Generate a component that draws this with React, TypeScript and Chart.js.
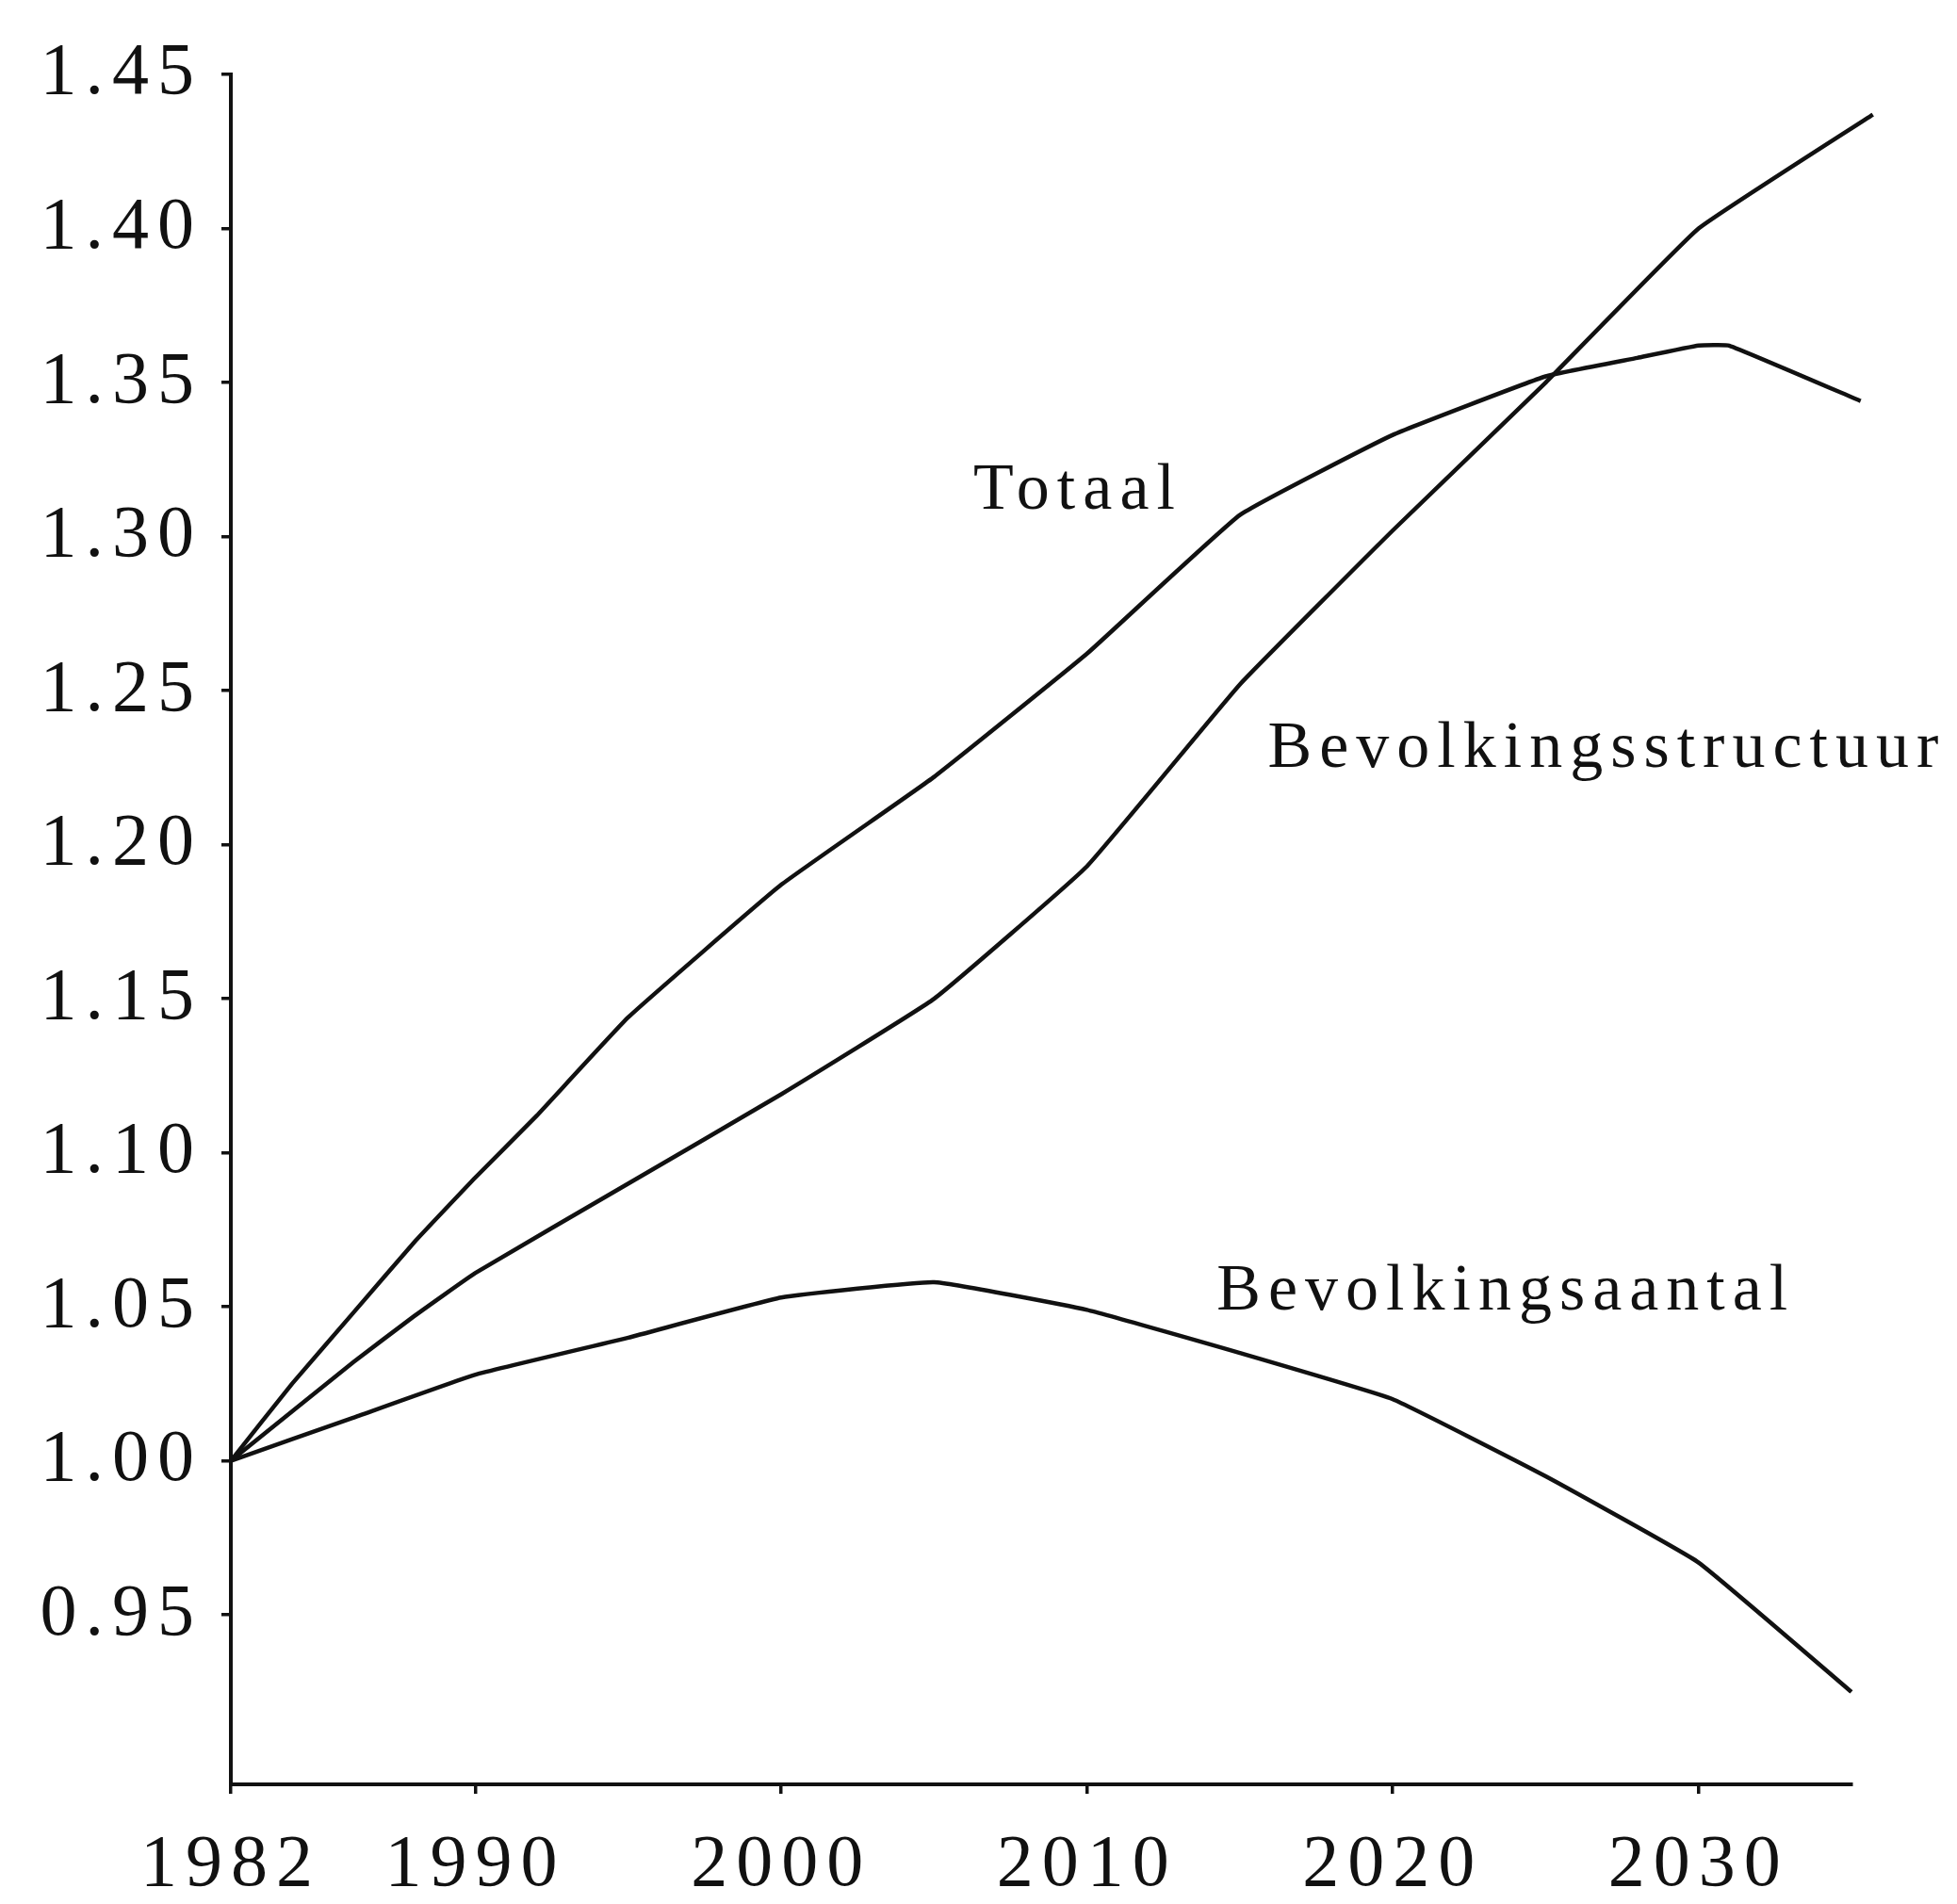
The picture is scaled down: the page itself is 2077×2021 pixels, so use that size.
import React, { useEffect, useRef } from "react";
import { Chart, registerables } from "chart.js";

Chart.register(...registerables);

// ---- data ----
const totaalYears = [1982, 1984, 1986, 1988, 1990, 1992, 1995, 2000, 2005, 2010, 2015, 2020, 2025, 2028, 2030, 2031, 2035.3];
const totaalValues = [1.0, 1.025, 1.048, 1.071, 1.092, 1.112, 1.144, 1.187, 1.222, 1.262, 1.307, 1.333, 1.352, 1.358, 1.362, 1.362, 1.344];

const structuurYears = [1982, 1986, 1988, 1990, 1995, 2000, 2005, 2010, 2015, 2020, 2025, 2030, 2035.7];
const structuurValues = [1.0, 1.032, 1.047, 1.061, 1.09, 1.119, 1.15, 1.193, 1.252, 1.302, 1.35, 1.4, 1.437];

const aantalYears = [1982, 1986, 1990, 1995, 2000, 2005, 2010, 2015, 2020, 2025, 2030, 2035];
const aantalValues = [1.0, 1.014, 1.028, 1.04, 1.053, 1.058, 1.049, 1.035, 1.02, 0.995, 0.967, 0.925];

const xTickValues = [1982, 1990, 2000, 2010, 2020, 2030];
const yTickValues = [0.95, 1.0, 1.05, 1.1, 1.15, 1.2, 1.25, 1.3, 1.35, 1.4, 1.45];

const seriesLabels = ["Totaal", "Bevolkingsstructuur", "Bevolkingsaantal"];
const labelYears = [2009.7, 2027.0, 2023.7];
const labelValues = [1.3146, 1.2308, 1.0547];

const INK = "#111111";
const FONT = '"Liberation Serif", "Times New Roman", serif';

const toPoints = (xs: number[], ys: number[]) => xs.map((x, i) => ({ x, y: ys[i] }));

const letterSpacingPlugin = {
  id: "letterSpacing",
  beforeDraw(chart: any) {
    try {
      chart.ctx.letterSpacing = "9px";
    } catch (e) {}
  },
};

const annotationPlugin = {
  id: "annotations",
  afterDatasetsDraw(chart: any) {
    const { ctx, scales } = chart;
    const xs = scales.x;
    const ys = scales.y;
    ctx.save();
    try {
      ctx.letterSpacing = "8px";
    } catch (e) {}
    ctx.font = `70px ${FONT}`;
    ctx.fillStyle = INK;
    ctx.textAlign = "center";
    ctx.textBaseline = "middle";
    seriesLabels.forEach((t, i) => {
      ctx.fillText(t, xs.getPixelForValue(labelYears[i]), ys.getPixelForValue(labelValues[i]));
    });
    ctx.restore();
  },
};

export default function App() {
  const ref = useRef<HTMLCanvasElement | null>(null);

  useEffect(() => {
    if (!ref.current) return;
    const mk = (label: string, xs: number[], ys: number[]) => ({
      label,
      data: toPoints(xs, ys),
      borderColor: INK,
      backgroundColor: INK,
      borderWidth: 4.5,
      pointRadius: 0,
      tension: 0.1,
      fill: false,
      clip: false as any,
    });
    const chart = new Chart(ref.current, {
      type: "line",
      data: {
        datasets: [
          mk(seriesLabels[0], totaalYears, totaalValues),
          mk(seriesLabels[1], structuurYears, structuurValues),
          mk(seriesLabels[2], aantalYears, aantalValues),
        ],
      },
      options: {
        responsive: false,
        animation: false,
        events: [],
        layout: { padding: { left: 0, top: 71, right: 104, bottom: 0 } },
        plugins: {
          legend: { display: false },
          tooltip: { enabled: false },
          title: { display: false },
        },
        scales: {
          x: {
            type: "linear",
            min: 1982,
            max: 2035,
            afterBuildTicks: (s: any) => {
              s.ticks = xTickValues.map((v) => ({ value: v }));
            },
            afterFit: (s: any) => {
              s.height = 119;
            },
            grid: {
              display: true,
              drawOnChartArea: false,
              drawTicks: true,
              tickLength: 10,
              color: INK,
              lineWidth: 3.5,
            },
            border: { display: true, color: INK, width: 4 },
            ticks: {
              color: INK,
              font: { family: FONT, size: 78 },
              padding: 30,
              maxRotation: 0,
              autoSkip: false,
              callback: (v: any) => String(v),
            },
          },
          y: {
            type: "linear",
            min: 0.895,
            max: 1.45,
            afterBuildTicks: (s: any) => {
              s.ticks = yTickValues.map((v) => ({ value: v }));
            },
            afterFit: (s: any) => {
              s.width = 237;
            },
            grid: {
              display: true,
              drawOnChartArea: false,
              drawTicks: true,
              tickLength: 10,
              color: INK,
              lineWidth: 3.5,
            },
            border: { display: true, color: INK, width: 4 },
            ticks: {
              color: INK,
              font: { family: FONT, size: 78 },
              padding: 20,
              autoSkip: false,
              callback: (v: any) => Number(v).toFixed(2),
            },
          },
        },
      },
      plugins: [letterSpacingPlugin, annotationPlugin],
    });
    return () => chart.destroy();
  }, []);

  return (
    <div style={{ width: 2061, height: 2005, background: "#fff" }}>
      <canvas ref={ref} width={2061} height={2005} style={{ display: "block", width: 2061, height: 2005 }} />
    </div>
  );
}
